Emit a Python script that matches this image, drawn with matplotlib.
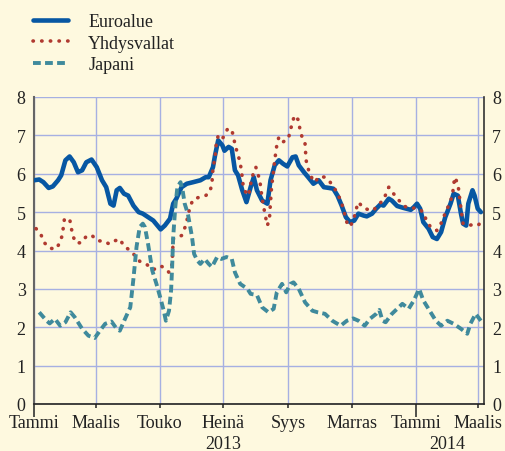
import matplotlib
matplotlib.use("Agg")
import matplotlib.pyplot as plt
import numpy as np

# Days since 1 Jan 2013
euro_days = [0, 5, 9, 14, 18, 23, 26, 30, 34, 38, 42, 46, 50, 55, 60, 65, 69, 73, 76, 79, 82, 86, 90, 95,
             100, 104, 109, 114, 121, 125, 130, 133, 136, 141, 146, 152, 159, 164, 167, 171, 173, 176, 180,
             182, 186, 189, 192, 195, 199, 203, 207, 210, 213, 218, 223, 226, 230, 234, 238, 242, 247, 250,
             253, 258, 262, 267, 272, 277, 282, 286, 290, 294, 298, 302, 306, 310, 315, 318, 323, 327, 331,
             334, 339, 342, 347, 353, 360, 363, 366, 369, 372, 377, 381, 385, 389, 393, 398, 401, 405, 408,
             410, 413, 415, 419, 421, 424, 427]
euro_vals = [5.83, 5.85, 5.78, 5.63, 5.67, 5.83, 5.96, 6.35, 6.45, 6.30, 6.04, 6.09, 6.30, 6.37, 6.17, 5.83,
             5.65, 5.22, 5.17, 5.57, 5.63, 5.48, 5.43, 5.17, 5.00, 4.96, 4.87, 4.78, 4.55, 4.65, 4.83, 5.22,
             5.35, 5.65, 5.74, 5.78, 5.83, 5.91, 5.91, 6.17, 6.48, 6.87, 6.74, 6.60, 6.70, 6.65, 6.09, 5.96,
             5.57, 5.26, 5.65, 5.91, 5.57, 5.30, 5.22, 5.83, 6.22, 6.35, 6.26, 6.19, 6.43, 6.45, 6.22, 6.04,
             5.91, 5.74, 5.83, 5.65, 5.63, 5.61, 5.43, 5.17, 4.87, 4.74, 4.78, 4.96, 4.91, 4.89, 4.96, 5.09,
             5.20, 5.17, 5.35, 5.30, 5.16, 5.11, 5.06, 5.13, 5.22, 5.09, 4.74, 4.57, 4.35, 4.30, 4.48, 4.87,
             5.22, 5.48, 5.43, 4.96, 4.70, 4.65, 5.22, 5.57, 5.43, 5.09, 5.00]

usa_days = [2, 7, 10, 15, 21, 24, 27, 29, 34, 37, 40, 45, 50, 55, 61, 66, 72, 77, 82, 86, 92, 98, 101,
            108, 114, 121, 125, 129, 132, 133, 141, 145, 149, 152, 159, 164, 168, 170, 171, 173, 174, 176,
            180, 185, 189, 192, 194, 197, 199, 200, 203, 205, 208, 210, 212, 214, 216, 218, 221, 223, 225,
            226, 227, 229, 230, 232, 234, 238, 243, 245, 247, 249, 253, 254, 256, 259, 260, 262, 264, 268,
            273, 278, 283, 288, 291, 294, 296, 298, 300, 303, 306, 308, 310, 315, 319, 324, 329, 334, 337,
            339, 343, 348, 353, 358, 366, 372, 375, 379, 385, 389, 392, 395, 398, 400, 401, 402, 405, 406,
            407, 408, 410, 414, 419, 424, 429]
usa_vals = [4.57, 4.39, 4.20, 4.06, 4.04, 4.17, 4.39, 4.81, 4.83, 4.39, 4.20, 4.20, 4.37, 4.40, 4.25, 4.25,
            4.17, 4.25, 4.30, 4.11, 4.00, 3.82, 3.72, 3.63, 3.50, 3.60, 3.54, 3.43, 3.65, 4.30, 4.39, 4.65,
            5.13, 5.33, 5.40, 5.43, 5.52, 5.74, 6.13, 6.43, 6.74, 7.00, 6.91, 7.17, 7.15, 6.78, 6.57, 6.30,
            5.91, 5.65, 5.48, 5.43, 5.87, 6.04, 6.17, 6.00, 5.78, 5.35, 4.91, 4.65, 4.83, 5.26, 5.65, 6.09,
            6.35, 6.74, 6.96, 6.83, 6.91, 7.13, 7.35, 7.52, 7.39, 7.17, 6.97, 6.78, 6.35, 6.13, 5.96, 5.78,
            5.93, 5.91, 5.78, 5.58, 5.43, 5.23, 5.04, 4.83, 4.63, 4.67, 4.87, 5.09, 5.26, 5.10, 5.07, 5.04,
            5.19, 5.32, 5.52, 5.65, 5.50, 5.33, 5.17, 5.10, 5.11, 5.00, 4.78, 4.61, 4.52, 4.71, 4.91, 5.10,
            5.28, 5.48, 5.70, 5.91, 5.74, 5.54, 5.30, 5.09, 4.70, 4.65, 4.67, 4.65, 4.78]

jpn_days = [5, 12, 15, 20, 25, 30, 35, 39, 46, 52, 58, 63, 68, 74, 79, 82, 87, 92, 95, 98, 101, 104, 106,
            109, 111, 113, 117, 121, 124, 126, 129, 131, 132, 133, 135, 137, 140, 142, 144, 147, 151, 153,
            156, 159, 163, 167, 170, 175, 179, 184, 189, 192, 197, 204, 207, 213, 218, 224, 229, 232, 237,
            241, 245, 248, 253, 259, 266, 271, 278, 285, 293, 299, 305, 310, 316, 321, 327, 330, 333, 336,
            342, 347, 352, 358, 363, 368, 372, 379, 384, 389, 395, 401, 408, 414, 417, 422, 427]
jpn_vals = [2.39, 2.17, 2.10, 2.22, 2.04, 2.13, 2.39, 2.26, 1.96, 1.78, 1.72, 1.91, 2.09, 2.15, 1.96, 1.91,
            2.22, 2.52, 3.26, 4.10, 4.61, 4.70, 4.61, 4.17, 3.83, 3.48, 3.13, 2.74, 2.43, 2.17, 2.43, 2.96,
            3.57, 4.35, 5.13, 5.65, 5.78, 5.57, 5.22, 4.96, 4.35, 3.91, 3.74, 3.65, 3.78, 3.65, 3.57, 3.83,
            3.78, 3.83, 3.78, 3.43, 3.13, 3.00, 2.87, 2.84, 2.52, 2.39, 2.48, 2.91, 3.13, 2.91, 3.13, 3.17,
            3.00, 2.65, 2.43, 2.39, 2.35, 2.17, 2.04, 2.17, 2.23, 2.17, 2.04, 2.22, 2.35, 2.45, 2.17, 2.13,
            2.35, 2.48, 2.61, 2.48, 2.70, 3.00, 2.70, 2.39, 2.17, 2.04, 2.17, 2.09, 1.96, 1.83, 2.09, 2.35,
            2.17]

tick_days = [0, 59, 120, 181, 243, 304, 365, 424]
tick_labels = ["Tammi", "Maalis", "Touko", "Heinä", "Syys", "Marras", "Tammi", "Maalis"]
year_labels = ["2013", "2014"]
year_pos = [181, 394.5]
series_names = ["Euroalue", "Yhdysvallat", "Japani"]

bg = "#FEF9DF"
fs = 13
plt.rcParams["font.family"] = ["Liberation Serif", "DejaVu Serif"]

fig = plt.figure(figsize=(5.06, 4.52), dpi=100, facecolor=bg)
ax = fig.add_axes([34 / 506, 1 - 405 / 452, (484 - 34) / 506, (405 - 98) / 452], facecolor=bg)

l1, = ax.plot(euro_days, euro_vals, color="#0757A3", lw=3.3, solid_joinstyle="round",
              solid_capstyle="round", label=series_names[0], zorder=3)
l2, = ax.plot(usa_days, usa_vals, color="#B03A30", lw=2.6, linestyle=(0, (0.1, 2.3)),
              dash_capstyle="round", label=series_names[1], zorder=4)
l3, = ax.plot(jpn_days, jpn_vals, color="#3F8A9C", lw=2.8, linestyle=(0, (2.0, 1.1)),
              label=series_names[2], zorder=5)

ax.set_xlim(0, 430)
ax.set_ylim(0, 8)
ax.set_yticks(range(0, 9))
ax.grid(True, color="#A6B0E2", lw=1.0)
ax.set_axisbelow(True)
ax.set_xticks(tick_days)
ax.set_xticklabels(tick_labels, fontsize=fs, color="#222222")
ax.tick_params(axis="x", direction="out", length=3, width=1.2, color="#333333", pad=4)
ax.tick_params(axis="y", which="both", length=0, labelsize=fs, labelcolor="#222222",
               left=True, right=True, labelleft=True, labelright=True, pad=6)
for i, t in enumerate(ax.xaxis.get_major_ticks()):
    if tick_labels[i] == "Tammi":
        t.tick1line.set_markersize(9)

ax.spines["top"].set_visible(False)
ax.spines["left"].set_color("#666666")
ax.spines["left"].set_linewidth(1.5)
ax.spines["right"].set_color("#333333")
ax.spines["right"].set_linewidth(1.2)
ax.spines["bottom"].set_color("#222222")
ax.spines["bottom"].set_linewidth(1.2)

for lab, pos in zip(year_labels, year_pos):
    ax.text(pos, -0.102, lab, transform=ax.get_xaxis_transform(), ha="center", va="top",
            fontsize=fs, color="#222222")

fig.legend(handles=[l1, l2, l3], loc="upper left", bbox_to_anchor=(17 / 506, 1 + 2 / 452),
           frameon=False, fontsize=fs, handlelength=1.9, handletextpad=1.15, labelspacing=0.25,
           labelcolor="#222222")

fig.savefig("out.png", dpi=100, facecolor=bg)
